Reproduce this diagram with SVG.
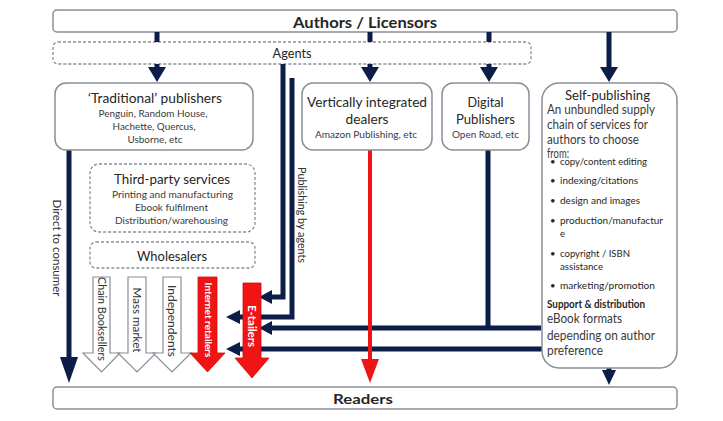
<svg xmlns="http://www.w3.org/2000/svg" width="723" height="421" viewBox="0 0 723 421">
<style>
text{font-family:Lato,"Open Sans","Liberation Sans",sans-serif;fill:#262626}
.box{fill:#fff;stroke:#8a8e96;stroke-width:1.5}
.dash{fill:#fff;stroke:#8a8e96;stroke-width:1.3;stroke-dasharray:3 2}
.nv{stroke:#0c1d48;stroke-width:5;fill:none}
.nvf{fill:#0c1d48}
.rd{stroke:#f01414;stroke-width:4;fill:none}
.rdf{fill:#f01414}
.wa{fill:#fff;stroke:#8a8e96;stroke-width:1.2}
.ra{fill:#f01414;stroke:#d00c0c;stroke-width:0.8}
.t{font-size:14px;text-anchor:middle}
.s{font-size:10px;text-anchor:middle;fill:#3a3a3a}
.p{font-size:12.5px;fill:#3a3a3a}
.b{font-size:9.5px;fill:#3a3a3a}
.v{font-size:11px;text-anchor:middle;fill:#333}
.w{fill:#fff;font-weight:bold;text-anchor:middle}
</style>
<rect width="723" height="421" fill="#fff"/>

<g id="authors">
<rect class="box" x="53" y="10" width="624" height="22" rx="4"/>
<text x="365" y="27.5" font-size="16" font-weight="bold" text-anchor="middle" textLength="144" lengthAdjust="spacingAndGlyphs">Authors / Licensors</text>
</g>

<g id="agents">
<rect class="dash" x="53" y="42" width="478" height="22" rx="5"/>
<text x="292" y="57.5" font-size="13" text-anchor="middle" textLength="39" lengthAdjust="spacingAndGlyphs">Agents</text>
</g>

<g id="connectors">
<path class="nv" d="M157,32V42M370,32V42M489,32V42"/>
<path class="nv" d="M157,64V68M370,64V68M489,64V68M609,32V68"/>
<polygon class="nvf" points="148,67 166,67 157,82"/>
<polygon class="nvf" points="361,67 379,67 370,82"/>
<polygon class="nvf" points="480,67 498,67 489,82"/>
<polygon class="nvf" points="600,67 618,67 609,82"/>
<path class="nv" d="M69,150V358"/>
<polygon class="nvf" points="60,357 78,357 69,383"/>
<path class="nv" d="M283,64V297H271"/>
<polygon class="nvf" points="272,290 272,304 259,297"/>
<path class="nv" d="M292,78V317H239"/>
<polygon class="nvf" points="240,310 240,324 226,317"/>
<path class="nv" d="M488,150V328M541,328H271"/>
<polygon class="nvf" points="272,321 272,335 259,328"/>
<path class="nv" d="M547,349H239"/>
<polygon class="nvf" points="240,342 240,356 226,349"/>
<path class="nv" d="M609,367V372"/>
<polygon class="nvf" points="602,370 616,370 609,385"/>
<path class="rd" d="M370,150V361"/>
<polygon class="rdf" points="361,359 379,359 370,383"/>
</g>

<g id="traditional">
<rect class="box" x="55" y="83" width="198" height="67" rx="11"/>
<text class="t" x="155" y="103" textLength="134" lengthAdjust="spacingAndGlyphs">‘Traditional’ publishers</text>
<text class="s" x="153" y="116.5" textLength="109" lengthAdjust="spacingAndGlyphs">Penguin, Random House,</text>
<text class="s" x="154" y="129.5" textLength="83" lengthAdjust="spacingAndGlyphs">Hachette, Quercus,</text>
<text class="s" x="155" y="142.5" textLength="55" lengthAdjust="spacingAndGlyphs">Usborne, etc</text>
</g>

<g id="vertical">
<rect class="box" x="302" y="83" width="130" height="67" rx="11"/>
<text class="t" x="367" y="107" textLength="120" lengthAdjust="spacingAndGlyphs">Vertically integrated</text>
<text class="t" x="367" y="124" textLength="43" lengthAdjust="spacingAndGlyphs">dealers</text>
<text class="s" x="366" y="137.5" textLength="102" lengthAdjust="spacingAndGlyphs">Amazon Publishing, etc</text>
</g>

<g id="digital">
<rect class="box" x="442" y="83" width="87" height="67" rx="11"/>
<text class="t" x="485.5" y="107" textLength="36" lengthAdjust="spacingAndGlyphs">Digital</text>
<text class="t" x="485.5" y="124" textLength="59" lengthAdjust="spacingAndGlyphs">Publishers</text>
<text class="s" x="485.5" y="137.5" textLength="67" lengthAdjust="spacingAndGlyphs">Open Road, etc</text>
</g>

<g id="self-publishing">
<rect class="box" x="542" y="83" width="135" height="285" rx="17"/>
<text class="t" x="607.5" y="100" textLength="85" lengthAdjust="spacingAndGlyphs">Self-publishing</text>
<text class="p" x="547" y="113.5" textLength="108" lengthAdjust="spacingAndGlyphs">An unbundled supply</text>
<text class="p" x="547" y="128.5" textLength="101" lengthAdjust="spacingAndGlyphs">chain of services for</text>
<text class="p" x="547" y="143.5" textLength="92" lengthAdjust="spacingAndGlyphs">authors to choose</text>
<text class="p" x="547" y="157.5" textLength="22" lengthAdjust="spacingAndGlyphs">from:</text>
<g class="b">
<text x="550" y="164.5">•</text><text x="560" y="164.5" textLength="87" lengthAdjust="spacingAndGlyphs">copy/content editing</text>
<text x="550" y="183.5">•</text><text x="560" y="183.5" textLength="78" lengthAdjust="spacingAndGlyphs">indexing/citations</text>
<text x="550" y="203.5">•</text><text x="560" y="203.5" textLength="80" lengthAdjust="spacingAndGlyphs">design and images</text>
<text x="550" y="223.5">•</text><text x="560" y="223.5" textLength="103" lengthAdjust="spacingAndGlyphs">production/manufactur</text>
<text x="560" y="236.5">e</text>
<text x="550" y="256.5">•</text><text x="560" y="256.5" textLength="70" lengthAdjust="spacingAndGlyphs">copyright / ISBN</text>
<text x="560" y="269.5" textLength="43" lengthAdjust="spacingAndGlyphs">assistance</text>
<text x="550" y="288.5">•</text><text x="560" y="288.5" textLength="95" lengthAdjust="spacingAndGlyphs">marketing/promotion</text>
</g>
<text x="547" y="307.5" font-size="10.5" font-weight="bold" fill="#444" textLength="98" lengthAdjust="spacingAndGlyphs">Support &amp; distribution</text>
<text class="p" x="547" y="322.5" textLength="75" lengthAdjust="spacingAndGlyphs">eBook formats</text>
<text class="p" x="547" y="339.5" textLength="108" lengthAdjust="spacingAndGlyphs">depending on author</text>
<text class="p" x="547" y="354.5" textLength="56" lengthAdjust="spacingAndGlyphs">preference</text>
</g>

<g id="third-party">
<rect class="dash" x="90" y="164" width="165" height="68" rx="9"/>
<text class="t" x="172" y="184" textLength="116" lengthAdjust="spacingAndGlyphs">Third-party services</text>
<text class="s" x="172.5" y="197.5" textLength="121" lengthAdjust="spacingAndGlyphs">Printing and manufacturing</text>
<text class="s" x="171.5" y="210.5" textLength="73" lengthAdjust="spacingAndGlyphs">Ebook fulfilment</text>
<text class="s" x="171.5" y="223.5" textLength="113" lengthAdjust="spacingAndGlyphs">Distribution/warehousing</text>
</g>

<g id="wholesalers">
<rect class="dash" x="90" y="242" width="165" height="26" rx="6"/>
<text class="t" x="172" y="261" textLength="70" lengthAdjust="spacingAndGlyphs">Wholesalers</text>
</g>

<g id="labels">
<text class="v" transform="translate(53,248) rotate(90)" textLength="97" lengthAdjust="spacingAndGlyphs">Direct to consumer</text>
<text class="v" transform="translate(298,215) rotate(90)" textLength="96" lengthAdjust="spacingAndGlyphs">Publishing by agents</text>
</g>

<g id="chain-booksellers">
<polygon class="wa" points="93,277 110,277 110,353 120,353 101.5,372 83,353 93,353"/>
<text class="v" transform="translate(97.5,319) rotate(90)" textLength="84" lengthAdjust="spacingAndGlyphs">Chain Booksellers</text>
</g>
<g id="mass-market">
<polygon class="wa" points="128,277 146,277 146,353 156,353 137,372 118,353 128,353"/>
<text class="v" transform="translate(133,320) rotate(90)" textLength="65" lengthAdjust="spacingAndGlyphs">Mass market</text>
</g>
<g id="independents">
<polygon class="wa" points="163,277 181,277 181,353 191,353 172,372 153,353 163,353"/>
<text class="v" transform="translate(168,321) rotate(90)" textLength="72" lengthAdjust="spacingAndGlyphs">Independents</text>
</g>
<g id="internet-retailers">
<polygon class="ra" points="198,277 217,277 217,353 225,353 207.5,372 190,353 198,353"/>
<text class="w" font-size="9" transform="translate(204.5,320) rotate(90)" textLength="75" lengthAdjust="spacingAndGlyphs">Internet retailers</text>
</g>
<g id="e-tailers">
<polygon class="ra" points="243,283 261,283 261,358 269,358 252,378 235,358 243,358"/>
<text class="w" font-size="11" transform="translate(248,326) rotate(90)" textLength="42" lengthAdjust="spacingAndGlyphs">E-tailers</text>
</g>

<g id="readers">
<rect class="box" x="53" y="387" width="624" height="22" rx="4"/>
<text x="363" y="403.5" font-size="14" font-weight="bold" text-anchor="middle" textLength="60" lengthAdjust="spacingAndGlyphs">Readers</text>
</g>
</svg>
